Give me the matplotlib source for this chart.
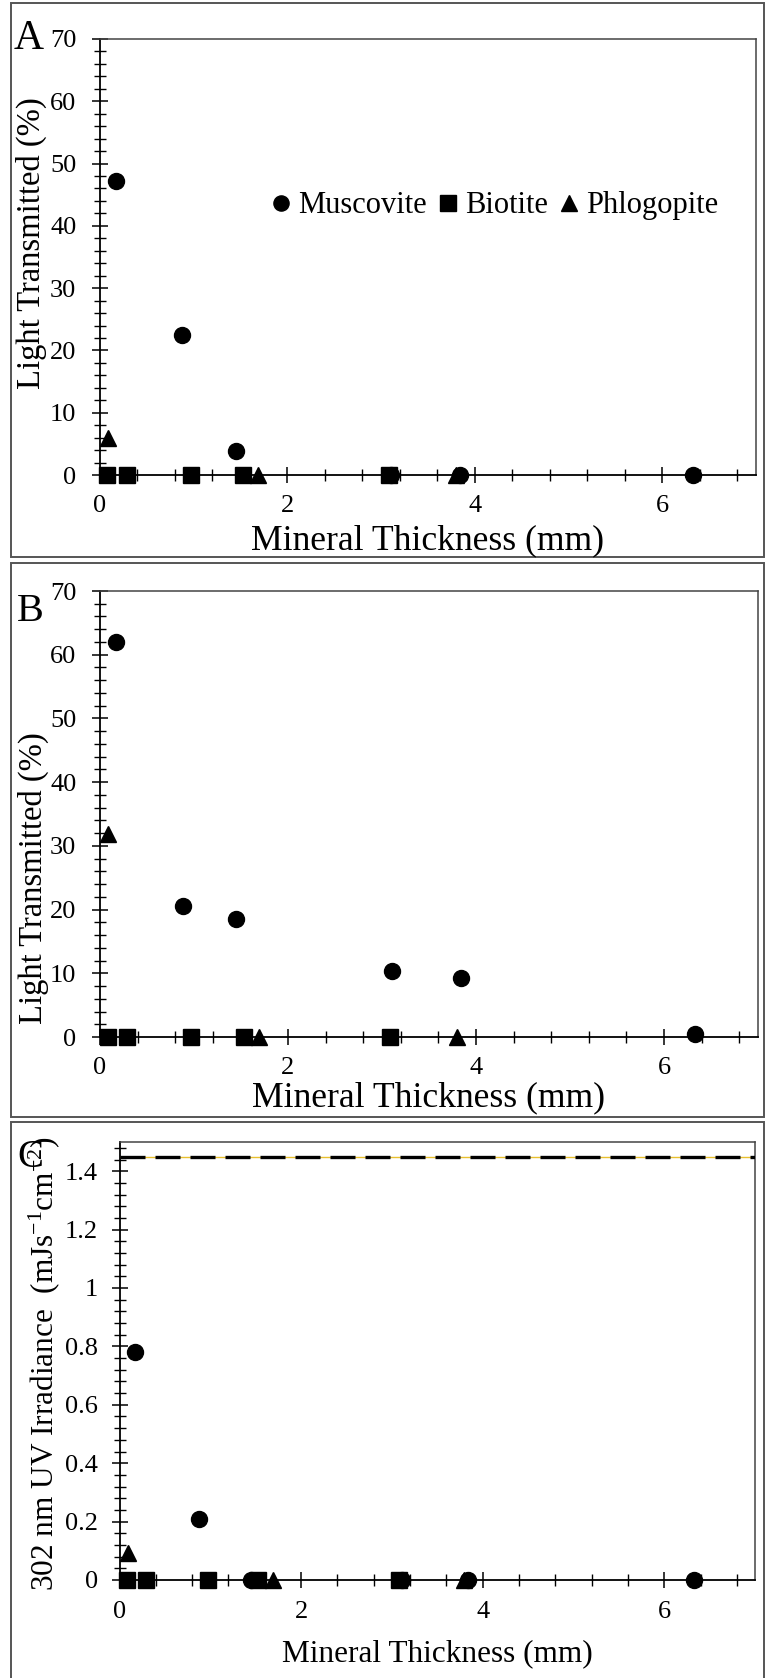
import matplotlib
matplotlib.use("Agg")
import matplotlib.pyplot as plt
from matplotlib.ticker import MultipleLocator, FuncFormatter
from matplotlib.patches import Rectangle

plt.rcParams['font.family'] = ['Liberation Serif', 'DejaVu Serif']
plt.rcParams['mathtext.fontset'] = 'custom'
plt.rcParams['mathtext.rm'] = 'Liberation Serif'
plt.rcParams['mathtext.it'] = 'Liberation Serif:italic'

# ---------------- data ----------------
series_names = ["Muscovite", "Biotite", "Phlogopite"]
muscovite_x = [0.17, 0.88, 1.45, 3.11, 3.84, 6.33]
biotite_x = [0.08, 0.29, 0.97, 1.53, 3.08]
phlogopite_x = [0.09, 1.69, 3.80]

# Panel A: light transmitted (%)
a_muscovite = [47.2, 22.5, 3.8, 0.0, 0.0, 0.0]
a_biotite = [0.0, 0.0, 0.0, 0.0, 0.0]
a_phlogopite = [5.9, 0.0, 0.0]

# Panel B: light transmitted (%)
b_muscovite = [62.0, 20.6, 18.5, 10.4, 9.25, 0.4]
b_biotite = [0.0, 0.0, 0.0, 0.0, 0.0]
b_phlogopite = [31.9, 0.0, 0.0]

# Panel C: 302 nm UV irradiance
c_muscovite = [0.78, 0.21, 0.0, 0.0, 0.0, 0.0]
c_biotite = [0.0, 0.0, 0.0, 0.0, 0.0]
c_phlogopite = [0.093, 0.0, 0.0]
c_reference = 1.45

panel_letters = ["A", "B", "C"]
xlabel = "Mineral Thickness (mm)"
ylabel_ab = "Light Transmitted (%)"
ylabel_c = r"302 nm UV Irradiance  (mJs$^{\mathrm{-1}}$cm$^{\mathrm{-2}}$)"

# ---------------- layout ----------------
W, H = 766, 1678
fig = plt.figure(figsize=(W / 100, H / 100), dpi=100)


def rect(l, t, r, b):
    return [l / W, 1 - b / H, (r - l) / W, (b - t) / H]


def fx(x):
    return x / W


def fy(y):
    return 1 - y / H


# panel borders
for (l, t, r, b) in [(10.5, 3.5, 764, 557), (10.5, 563, 764, 1116.5), (10.5, 1121.5, 764, 1690)]:
    fig.add_artist(Rectangle((fx(l), fy(b)), (r - l) / W, (b - t) / H, transform=fig.transFigure,
                             fill=False, edgecolor='#555555', linewidth=1.4))

marker_kw = dict(linestyle='none', color='black', markersize=11.5, clip_on=False, zorder=5)


def style_axes(ax, ymax, ymajor, yminor, tick_fs, ypad, xpad, fmt=None):
    ax.set_xlim(0, 7)
    ax.set_ylim(0, ymax)
    ax.xaxis.set_major_locator(MultipleLocator(2))
    ax.xaxis.set_minor_locator(MultipleLocator(0.4))
    ax.yaxis.set_major_locator(MultipleLocator(ymajor))
    ax.yaxis.set_minor_locator(MultipleLocator(yminor))
    if fmt is not None:
        ax.yaxis.set_major_formatter(FuncFormatter(fmt))
    ax.tick_params(axis='both', which='major', direction='inout', length=12, width=1.1,
                   labelsize=tick_fs, color='black')
    ax.tick_params(axis='both', which='minor', direction='inout', length=8, width=1.0, color='black')
    ax.tick_params(axis='y', which='major', pad=ypad)
    ax.tick_params(axis='x', which='major', pad=xpad)
    ax.tick_params(top=False, right=False, which='both')
    for s in ['left', 'bottom']:
        ax.spines[s].set_color('black')
        ax.spines[s].set_linewidth(1.3)
    for s in ['top', 'right']:
        ax.spines[s].set_color('#444444')
        ax.spines[s].set_linewidth(1.1)


def draw_series(ax, ym, yb, yp):
    ax.plot(muscovite_x, ym, marker='o', label=series_names[0], **marker_kw)
    ax.plot(biotite_x, yb, marker='s', label=series_names[1], **marker_kw)
    ax.plot(phlogopite_x, yp, marker='^', label=series_names[2], **marker_kw)


# ---- Panel A ----
axA = fig.add_axes(rect(100, 39, 756, 475))
draw_series(axA, a_muscovite, a_biotite, a_phlogopite)
style_axes(axA, 70, 10, 2, 19, 11, 8.5)
axA.legend(loc='center', bbox_to_anchor=(0.602, 0.617), ncol=3, frameon=False, fontsize=22,
           handlelength=0.6, handletextpad=0.25, columnspacing=0.4, borderpad=0, numpoints=1,
           markerscale=0.95)
fig.text(fx(14), fy(49), panel_letters[0], fontsize=30, ha='left', va='baseline')
fig.text(fx(31.5), fy(243), ylabel_ab, fontsize=23.5, rotation=90, ha='center', va='center')
fig.text(fx(428), fy(541), xlabel, fontsize=25.7, ha='center', va='center')

# ---- Panel B ----
axB = fig.add_axes(rect(100, 591, 758, 1037))
draw_series(axB, b_muscovite, b_biotite, b_phlogopite)
style_axes(axB, 70, 10, 2, 19, 11, 8.5)
fig.text(fx(17), fy(621), panel_letters[1], fontsize=29, ha='left', va='baseline')
fig.text(fx(33), fy(878), ylabel_ab, fontsize=23.5, rotation=90, ha='center', va='center')
fig.text(fx(429), fy(1098), xlabel, fontsize=25.7, ha='center', va='center')

# ---- Panel C ----
axC = fig.add_axes(rect(119.5, 1142, 755, 1580))
axC.axhline(c_reference, color='#e8c030', linewidth=1.0, zorder=2)
axC.axhline(c_reference, color='black', linewidth=2.4, dashes=(7.5, 3.0), zorder=3)
draw_series(axC, c_muscovite, c_biotite, c_phlogopite)
style_axes(axC, 1.5, 0.2, 0.04, 19, 9.5, 9, fmt=lambda v, p: ('%g' % round(v, 2)))
fig.text(fx(17), fy(1167), panel_letters[2], fontsize=28, ha='left', va='baseline')
fig.text(fx(44), fy(1364), ylabel_c, fontsize=22.5, rotation=90, ha='center', va='center')
fig.text(fx(437), fy(1654), xlabel, fontsize=22.5, ha='center', va='center')

fig.savefig("out.png", dpi=100)
